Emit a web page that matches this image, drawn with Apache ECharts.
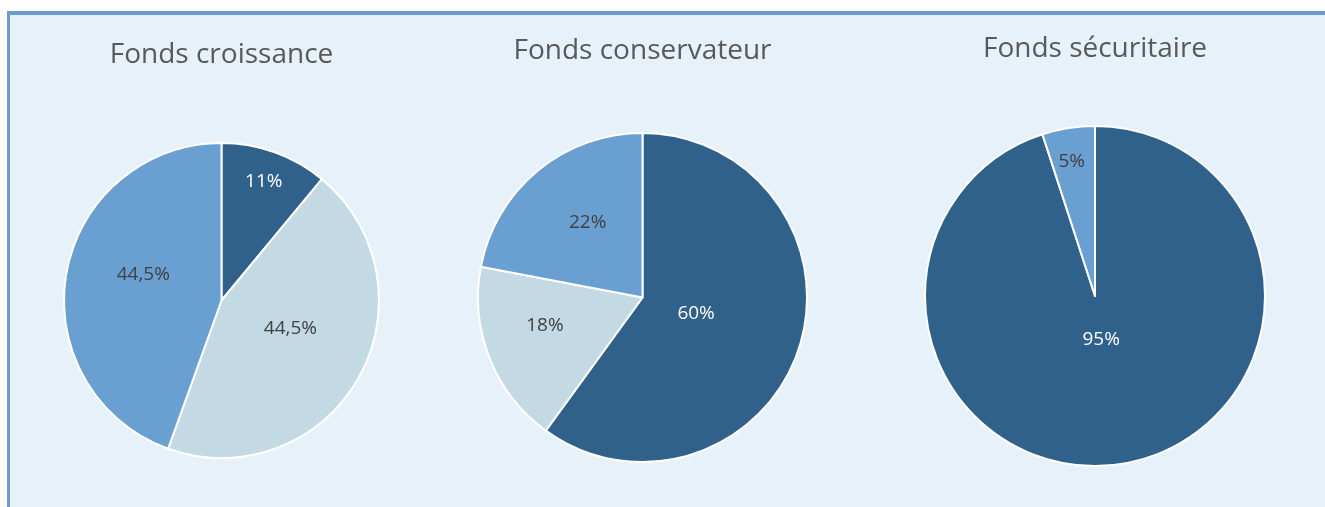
<!DOCTYPE html>
<html>
<head>
<meta charset="utf-8">
<script src="https://cdn.jsdelivr.net/npm/echarts@6/dist/echarts.min.js"></script>
<style>
  html, body { margin: 0; padding: 0; background: #ffffff; }
  #frame { position: absolute; left: 7px; top: 11px; width: 1318px; height: 496px;
           border-left: 3px solid #6a9ccf; border-top: 4px solid #6a9ccf; background: #e6f1f9; }
  #chart { position: absolute; left: 0; top: 0; width: 1325px; height: 507px; }
</style>
</head>
<body>
<div id="frame"></div>
<div id="chart"></div>
<script>
// ---- data ----
const titles = ['Fonds croissance', 'Fonds conservateur', 'Fonds sécuritaire'];
const croissanceValues = [11, 44.5, 44.5];
const conservateurValues = [60, 18, 22];
const securitaireValues = [95, 5];

// ---- styling / layout ----
const DARK = '#30618b', MEDIUM = '#6a9fd1', LIGHT = '#c3d9e4';
const croissanceColors = [DARK, LIGHT, MEDIUM];
const conservateurColors = [DARK, LIGHT, MEDIUM];
const securitaireColors = [DARK, MEDIUM];

const pies = [
  { title: titles[0], values: croissanceValues, colors: croissanceColors,
    center: [221.5, 300.5], r: 157.5, titleTop: 41, labelDist: [0.81, 0.47, 0.53],
    labelNudge: [[-2, 4], [2, -10], [7, -11]] },
  { title: titles[1], values: conservateurValues, colors: conservateurColors,
    center: [642.5, 297.5], r: 164.5, titleTop: 37, labelDist: [0.35, 0.62, 0.59],
    labelNudge: [[-4, -3], [0, -11], [9, 2]] },
  { title: titles[2], values: securitaireValues, colors: securitaireColors,
    center: [1095, 296], r: 170, titleTop: 35, labelDist: [0.25, 0.82],
    labelNudge: [[-1, -1], [-1, 6]] }
];

const fmt = v => String(v).replace('.', ',') + '%';
const FONT = '"Open Sans", sans-serif';

const series = [];
const title = [];
pies.forEach(p => {
  title.push({
    text: p.title, left: p.center[0], top: p.titleTop, textAlign: 'center', padding: 0,
    textStyle: { fontFamily: FONT, fontSize: 28, fontWeight: 'normal', color: '#595959' }
  });
  // main pie
  series.push({
    type: 'pie', center: p.center, radius: [0, p.r], startAngle: 90, clockwise: true,
    silent: true, animation: false,
    label: { show: false }, labelLine: { show: false },
    itemStyle: { borderColor: '#ffffff', borderWidth: 2 },
    emphasis: { disabled: true },
    data: p.values.map((v, i) => ({ value: v, itemStyle: { color: p.colors[i] } }))
  });
  // label-only overlays (one per slice, to place each label at its own distance)
  p.values.forEach((_, k) => {
    series.push({
      type: 'pie', center: p.center, radius: [0, 2 * p.labelDist[k] * p.r],
      startAngle: 90, clockwise: true, silent: true, animation: false,
      labelLine: { show: false }, emphasis: { disabled: true },
      itemStyle: { color: 'transparent', borderWidth: 0 },
      data: p.values.map((v, i) => ({
        value: v,
        label: {
          show: i === k, position: 'inside', formatter: fmt(v),
          offset: p.labelNudge[i],
          fontFamily: FONT, fontSize: 19,
          color: p.colors[i] === DARK ? '#ffffff' : '#404040'
        }
      }))
    });
  });
});

const chart = echarts.init(document.getElementById('chart'), null, { renderer: 'canvas' });
chart.setOption({ backgroundColor: 'transparent', animation: false, title, series });
</script>
</body>
</html>
